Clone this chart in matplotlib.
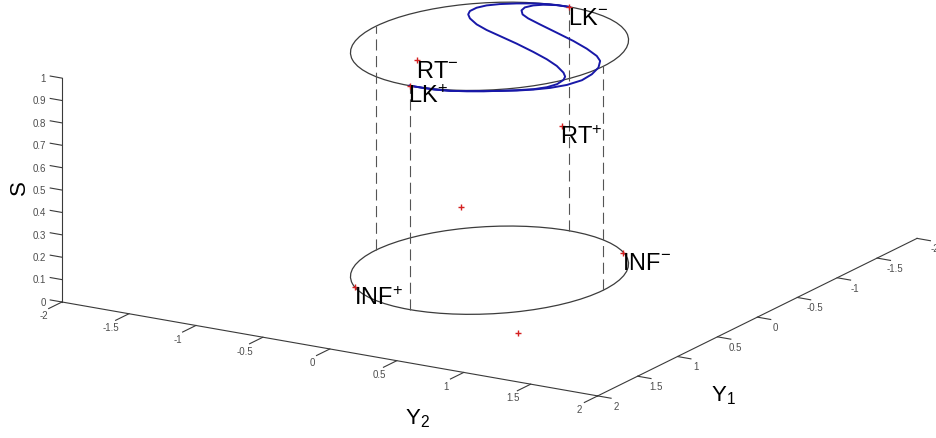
import matplotlib
matplotlib.use('Agg')
import matplotlib.pyplot as plt
from matplotlib.patches import Ellipse
from matplotlib.transforms import offset_copy
import mpl_toolkits.mplot3d.art3d as art3d
from mpl_toolkits.mplot3d import proj3d
import numpy as np

plt.rcParams['font.family'] = ['Liberation Sans', 'DejaVu Sans']
plt.rcParams['mathtext.fontset'] = 'custom'
plt.rcParams['mathtext.rm'] = 'Liberation Sans'
plt.rcParams['mathtext.it'] = 'Liberation Sans:italic'

# ellipse in the (Y1, Y2) plane, drawn at two levels of S
ell_y1_radius = 1.0
ell_y2_radius = 0.85
ell_levels = [0.0, 1.0]

# dashed verticals joining the two ellipses
vert_y1 = [1.0, -1.0, 0.0, 0.0]
vert_y2 = [0.0, 0.0, 0.85, -0.85]

# marked points (red +) and their names
pt_names = ['LK$^{+}$', 'LK$^{-}$', 'RT$^{-}$', 'RT$^{+}$', 'INF$^{+}$', 'INF$^{-}$', '', '']
pt_y1 = [1.0, -1.0, 0.50, -0.50, 0.76, -0.77, -1.08, 1.08]
pt_y2 = [0.0, 0.0, -0.24, 0.24, -0.55, 0.54, -0.86, 0.86]
pt_s = [1.0, 1.0, 1.0, 0.58, 0.0, 0.0, 0.0, 0.0]

# the two S shaped curves lying on S = 1
outer_y1 = [-1.000, -0.995, -0.985, -0.947, -0.892, -0.825, -0.756, -0.680, -0.596, -0.528,
            -0.459, -0.369, -0.296, -0.227, -0.139, -0.038, 0.055, 0.147, 0.250, 0.319,
            0.387, 0.489, 0.578, 0.659, 0.732, 0.800, 0.861, 0.915, 0.964, 0.990, 0.998, 1.000]
outer_y2 = [0.000, -0.077, -0.139, -0.239, -0.330, -0.415, -0.473, -0.502, -0.502, -0.474,
            -0.420, -0.316, -0.198, -0.058, 0.120, 0.305, 0.461, 0.590, 0.701, 0.755,
            0.783, 0.795, 0.773, 0.722, 0.641, 0.557, 0.468, 0.377, 0.281, 0.178, 0.086, 0.000]
inner_y1 = [-1.000, -0.992, -0.955, -0.909, -0.845, -0.778, -0.706, -0.650, -0.576, -0.476,
            -0.375, -0.275, -0.171, -0.089, 0.041, 0.188, 0.332, 0.469, 0.580, 0.665,
            0.739, 0.800, 0.861, 0.915, 0.964, 0.990, 0.998, 1.000]
inner_y2 = [0.000, -0.091, -0.169, -0.216, -0.240, -0.225, -0.174, -0.099, 0.033, 0.218,
            0.403, 0.562, 0.699, 0.773, 0.838, 0.876, 0.888, 0.858, 0.799, 0.726,
            0.645, 0.557, 0.468, 0.377, 0.281, 0.178, 0.086, 0.000]
curve_s = 1.0

# axes
y_ticks = [-2, -1.5, -1, -0.5, 0, 0.5, 1, 1.5, 2]
y_ticklabels = ['-2', '-1.5', '-1', '-0.5', '0', '0.5', '1', '1.5', '2']
s_ticks = [0, 0.1, 0.2, 0.3, 0.4, 0.5, 0.6, 0.7, 0.8, 0.9, 1]
s_ticklabels = ['0', '0.1', '0.2', '0.3', '0.4', '0.5', '0.6', '0.7', '0.8', '0.9', '1']
lim_y = (-2, 2)
lim_s = (0, 1)

W, H = 936, 439
fig = plt.figure(figsize=(W / 100, H / 100), dpi=100)
ax = fig.add_axes([0, 0, 1, 1], projection='3d', proj_type='ortho', computed_zorder=False)
ax.view_init(elev=17.1, azim=30.8)
box = (1, 1, 0.3756)
ax.set_box_aspect(box)
ax.set_xlim(lim_y)
ax.set_ylim(lim_y)
ax.set_zlim(lim_s)
ax.set_axis_off()

axc = '#3a3a3a'
tkc = '#4d4d4d'
y1max, y2min, y2max = lim_y[1], lim_y[0], lim_y[1]
texts = []  # (y1, y2, s, string, dx_pt, dy_pt, kwargs) placed once the view is fitted

# Y2 axis (along Y1 = 2, S = 0)
ax.plot([y1max, y1max], [y2min, y2max], [0, 0], color=axc, lw=0.8, clip_on=False)
for v, lab in zip(y_ticks, y_ticklabels):
    ax.plot([y1max, y1max + 0.167], [v, v], [0, 0], color=axc, lw=0.8, clip_on=False)
    texts.append((y1max + 0.225, v, -0.02, lab, 0, 0,
                  dict(ha='center', va='center', fontsize=7, color=tkc)))
# Y1 axis (along Y2 = 2, S = 0)
ax.plot([lim_y[0], lim_y[1]], [y2max, y2max], [0, 0], color=axc, lw=0.8, clip_on=False)
for v, lab in zip(y_ticks, y_ticklabels):
    ax.plot([v, v], [y2max, y2max + 0.1], [0, 0], color=axc, lw=0.8, clip_on=False)
    texts.append((v, y2max + 0.135, -0.03, lab, 0, 0,
                  dict(ha='center', va='center', fontsize=7, color=tkc)))
# S axis at the left corner
ax.plot([y1max, y1max], [y2min, y2min], [lim_s[0], lim_s[1]], color=axc, lw=0.8, clip_on=False)
for v, lab in zip(s_ticks, s_ticklabels):
    ax.plot([y1max, y1max], [y2min, y2min - 0.088], [v, v], color=axc, lw=0.8, clip_on=False)
    texts.append((y1max, y2min - 0.12, v - 0.012, lab, 0, 0,
                  dict(ha='right', va='center', fontsize=7, color=tkc)))

texts.append((y1max, y2min - 0.32, 0.48, 'S', 0, 0,
               dict(rotation=90, ha='center', va='center', fontsize=16)))
texts.append((2.5, 0.95, -0.12, 'Y$_{\\mathrm{2}}$', 0, 0,
               dict(ha='center', va='center', fontsize=16)))
texts.append((1.26, 2.5, -0.074, 'Y$_{\\mathrm{1}}$', 0, 0,
               dict(ha='center', va='center', fontsize=16)))

# ellipses
for lev in ell_levels:
    e = Ellipse((0, 0), 2 * ell_y1_radius, 2 * ell_y2_radius, fill=False,
                edgecolor='#3c3c3c', lw=0.9)
    ax.add_patch(e)
    art3d.pathpatch_2d_to_3d(e, z=lev, zdir='z')
    e.set_clip_on(False)

# dashed verticals
for a, b in zip(vert_y1, vert_y2):
    ax.plot([a, a], [b, b], ell_levels, color='#555555', lw=0.8, ls=(0, (10, 5)), clip_on=False)

# S curves
ax.plot(outer_y1, outer_y2, curve_s, color='#1818a8', lw=1.4, clip_on=False)
ax.plot(inner_y1, inner_y2, curve_s, color='#1818a8', lw=1.4, clip_on=False)

# points and names
ax.plot(pt_y1, pt_y2, pt_s, ls='none', marker='+', ms=5, mew=1.0, color='#d42020', clip_on=False)
for name, a, b, c in zip(pt_names, pt_y1, pt_y2, pt_s):
    if name:
        texts.append((a, b, c, name, -1, -12, dict(ha='left', va='baseline', fontsize=17)))

# fit the projected box onto the figure: left and right floor corners
tgt_left = np.array([62.0, H - 303.0])
tgt_right = np.array([917.0, H - 239.0])


def proj2d(x, y, z):
    xs, ys, _ = proj3d.proj_transform(np.atleast_1d(float(x)), np.atleast_1d(float(y)),
                                      np.atleast_1d(float(z)), ax.get_proj())
    return xs[0], ys[0]


def px(x, y, z):
    return ax.transData.transform(proj2d(x, y, z))


fig.canvas.draw()
d_cur = np.linalg.norm(px(-2, 2, 0) - px(2, -2, 0))
d_tgt = np.linalg.norm(tgt_right - tgt_left)
ax.set_box_aspect(box, zoom=d_tgt / d_cur)
fig.canvas.draw()
shift = tgt_left - px(2, -2, 0)
ax.set_position([shift[0] / W, shift[1] / H, 1, 1])
fig.canvas.draw()

# labels go in as plain 2D texts at the projected positions
for a, b, c, s, dx, dy, kw in texts:
    xp, yp = proj2d(a, b, c)
    tr = offset_copy(ax.transData, fig=fig, x=dx, y=dy, units='points')
    ax.text2D(xp, yp, s, transform=tr, **kw)

fig.savefig('out.png', dpi=100)
